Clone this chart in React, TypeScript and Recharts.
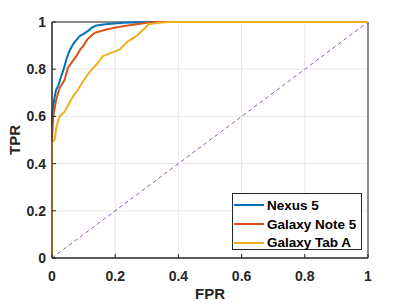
import React from 'react';
import { LineChart, Line, XAxis, YAxis, CartesianGrid, ReferenceArea } from 'recharts';

// ROC curves (FPR, TPR pairs)
const nexusFpr = [0, 0, 0.003, 0.008, 0.013, 0.02, 0.029, 0.037, 0.045, 0.055, 0.066, 0.075, 0.087, 0.1, 0.113, 0.125, 0.14, 0.17, 0.225, 0.32, 1];
const nexusTpr = [0, 0.6, 0.63, 0.68, 0.713, 0.73, 0.77, 0.8, 0.84, 0.876, 0.904, 0.92, 0.94, 0.95, 0.961, 0.975, 0.985, 0.99, 0.997, 1, 1];

const noteFpr = [0, 0, 0.002, 0.004, 0.013, 0.024, 0.04, 0.05, 0.063, 0.077, 0.09, 0.098, 0.113, 0.135, 0.172, 0.214, 0.267, 0.3, 0.33, 1];
const noteTpr = [0, 0.5, 0.56, 0.6, 0.67, 0.72, 0.755, 0.805, 0.83, 0.855, 0.885, 0.897, 0.928, 0.954, 0.968, 0.98, 0.99, 0.997, 1, 1];

const tabFpr = [0, 0, 0.008, 0.015, 0.024, 0.04, 0.055, 0.066, 0.082, 0.098, 0.113, 0.13, 0.145, 0.16, 0.187, 0.214, 0.24, 0.267, 0.283, 0.3, 0.304, 0.34, 0.37, 1];
const tabTpr = [0, 0.49, 0.5, 0.56, 0.6, 0.62, 0.657, 0.684, 0.713, 0.748, 0.777, 0.805, 0.826, 0.855, 0.869, 0.883, 0.918, 0.94, 0.961, 0.982, 0.99, 0.997, 1, 1];

const chanceFpr = [0, 1];
const chanceTpr = [0, 1];

const ticks = [0, 0.2, 0.4, 0.6, 0.8, 1];

const zip = (xs: number[], ys: number[]) => xs.map((fpr, i) => ({ fpr, tpr: ys[i] }));

const series = [
  { name: 'Nexus 5', color: '#0072BD', data: zip(nexusFpr, nexusTpr) },
  { name: 'Galaxy Note 5', color: '#D95319', data: zip(noteFpr, noteTpr) },
  { name: 'Galaxy Tab A', color: '#EDB120', data: zip(tabFpr, tabTpr) },
];

const FONT = '"Liberation Sans", Arial, Helvetica, sans-serif';
const INK = '#262626';

const fmt = (v: number) => (v === 0 || v === 1 ? String(v) : v.toFixed(1));

function LegendBox() {
  return (
    <div
      style={{
        position: 'absolute', left: 232, top: 193, width: 130, height: 57,
        border: '1px solid #262626', background: '#fff', padding: '2px 0 0 1px',
        fontFamily: FONT, fontSize: 13.5, fontWeight: 'bold', color: '#000', boxSizing: 'border-box',
      }}
    >
      {series.map((s) => (
        <div key={s.name} style={{ display: 'flex', alignItems: 'center', height: 18.7, whiteSpace: 'nowrap' }}>
          <span style={{ display: 'inline-block', width: 30, height: 2, background: s.color, marginRight: 3 }} />
          {s.name}
        </div>
      ))}
    </div>
  );
}

export default function App() {
  return (
    <div style={{ position: 'absolute', left: 0, top: 0, width: 407, height: 305, background: '#fff' }}>
      <LineChart width={407} height={305} margin={{ top: 22, right: 39, bottom: 0, left: 0 }}>
        <CartesianGrid stroke="#e3e3e3" strokeWidth={0.9} />
        <XAxis
          type="number"
          dataKey="fpr"
          domain={[0, 1]}
          ticks={ticks}
          tickFormatter={fmt}
          allowDuplicatedCategory={false}
          height={47}
          stroke={INK}
          tickSize={-4}
          tickMargin={17}
          tick={{ fill: INK, fontSize: 14, fontWeight: 'bold', fontFamily: FONT }}
          label={{ value: 'FPR', position: 'insideBottom', offset: 6, fill: INK, fontSize: 15, fontWeight: 'bold', fontFamily: FONT }}
        />
        <YAxis
          type="number"
          dataKey="tpr"
          domain={[0, 1]}
          ticks={ticks}
          tickFormatter={fmt}
          width={52}
          stroke={INK}
          tickSize={-4}
          tickMargin={10}
          tick={{ fill: INK, fontSize: 14, fontWeight: 'bold', fontFamily: FONT }}
          label={{ value: 'TPR', angle: -90, position: 'insideLeft', offset: 15, fill: INK, fontSize: 15, fontWeight: 'bold', fontFamily: FONT, style: { textAnchor: 'middle' } }}
        />
        <ReferenceArea x1={0} x2={1} y1={0} y2={1} fill="none" stroke={INK} strokeWidth={1} ifOverflow="visible" />
        <Line
          data={zip(chanceFpr, chanceTpr)}
          dataKey="tpr"
          type="linear"
          stroke="#9B59B6"
          strokeWidth={1}
          strokeDasharray="4 3"
          dot={false}
          isAnimationActive={false}
          legendType="none"
        />
        {series.map((s) => (
          <Line
            key={s.name}
            name={s.name}
            data={s.data}
            dataKey="tpr"
            type="linear"
            stroke={s.color}
            strokeWidth={2}
            dot={false}
            isAnimationActive={false}
          />
        ))}
      </LineChart>
      <LegendBox />
    </div>
  );
}
